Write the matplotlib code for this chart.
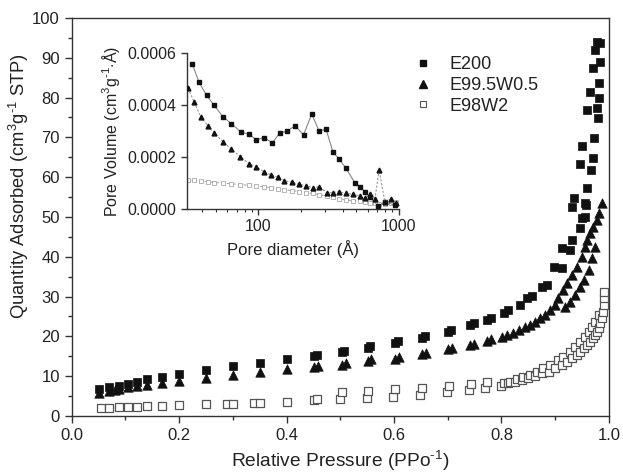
import matplotlib
matplotlib.use("Agg")
import matplotlib.pyplot as plt
from matplotlib.ticker import MultipleLocator, LogLocator, NullFormatter, FixedLocator
from matplotlib.lines import Line2D

plt.rcParams['font.family'] = ['Liberation Sans', 'DejaVu Sans']
plt.rcParams['mathtext.fontset'] = 'custom'
plt.rcParams['mathtext.rm'] = 'Liberation Sans'

# ---------------- main isotherm data ----------------
e200_p = [0.051, 0.070, 0.089, 0.105, 0.122, 0.141, 0.169, 0.200, 0.250, 0.300,
          0.351, 0.400, 0.451, 0.456, 0.503, 0.507, 0.551, 0.556, 0.602, 0.607,
          0.652, 0.657, 0.701, 0.707, 0.742, 0.748, 0.773, 0.780, 0.804, 0.813,
          0.835, 0.847, 0.857, 0.875, 0.885, 0.897, 0.912, 0.912, 0.928, 0.931,
          0.947, 0.950, 0.931, 0.958, 0.935, 0.956, 0.956, 0.960, 0.966, 0.947,
          0.970, 0.949, 0.973, 0.979, 0.977, 0.960, 0.982, 0.964, 0.982, 0.970,
          0.984, 0.974, 0.978, 0.984]
e200_q = [6.7, 7.2, 7.5, 8.0, 8.6, 9.2, 9.9, 10.6, 11.6, 12.6,
          13.4, 14.3, 15.1, 15.4, 16.0, 16.4, 17.1, 17.6, 18.3, 18.8,
          19.6, 20.1, 21.2, 21.7, 22.8, 23.3, 24.1, 24.6, 25.8, 26.6,
          27.9, 29.6, 30.2, 32.3, 32.9, 37.5, 37.1, 42.1, 41.7, 44.2,
          47.2, 49.7, 52.6, 53.0, 54.7, 53.4, 50.1, 57.2, 61.8, 63.3,
          64.8, 67.8, 69.8, 74.8, 77.3, 76.9, 79.8, 81.5, 83.7, 87.4,
          89.0, 92.0, 94.0, 93.6]

e995_p = [0.051, 0.070, 0.080, 0.089, 0.105, 0.122, 0.141, 0.169, 0.200, 0.250,
          0.300, 0.351, 0.400, 0.451, 0.458, 0.503, 0.510, 0.551, 0.558, 0.602,
          0.609, 0.652, 0.659, 0.701, 0.708, 0.742, 0.749, 0.773, 0.780, 0.801,
          0.810, 0.822, 0.832, 0.844, 0.853, 0.863, 0.872, 0.881, 0.891, 0.900,
          0.906, 0.915, 0.919, 0.922, 0.928, 0.931, 0.937, 0.940, 0.947, 0.950,
          0.953, 0.956, 0.960, 0.962, 0.965, 0.968, 0.971, 0.974, 0.978, 0.981,
          0.987]
e995_q = [5.7, 6.4, 6.6, 6.7, 7.2, 7.5, 7.8, 8.4, 8.9, 9.5,
          10.3, 11.1, 11.7, 12.2, 12.5, 12.9, 13.2, 13.8, 14.2, 14.4,
          14.8, 15.5, 15.9, 16.8, 17.2, 17.8, 18.2, 18.9, 19.3, 19.9,
          20.4, 20.9, 21.6, 22.4, 22.9, 23.7, 24.5, 25.4, 26.6, 27.9,
          29.6, 31.7, 27.5, 33.3, 28.7, 35.4, 30.4, 37.5, 32.5, 40.0,
          34.2, 42.5, 44.2, 36.7, 45.9, 39.6, 47.6, 42.5, 49.2, 50.9,
          53.4]

e98_p = [0.055, 0.070, 0.089, 0.105, 0.122, 0.141, 0.169, 0.200, 0.250, 0.290,
         0.300, 0.340, 0.351, 0.400, 0.451, 0.456, 0.500, 0.503, 0.549, 0.552,
         0.599, 0.602, 0.649, 0.652, 0.698, 0.702, 0.739, 0.743, 0.770, 0.774,
         0.800, 0.804, 0.813, 0.816, 0.826, 0.829, 0.838, 0.841, 0.850, 0.853,
         0.863, 0.866, 0.875, 0.878, 0.888, 0.891, 0.900, 0.906, 0.912, 0.915,
         0.922, 0.928, 0.931, 0.937, 0.940, 0.947, 0.947, 0.953, 0.956, 0.960,
         0.962, 0.965, 0.968, 0.970, 0.974, 0.974, 0.978, 0.981, 0.981, 0.984,
         0.987, 0.989, 0.991, 0.991, 0.991]
e98_q = [1.9, 1.9, 2.2, 2.3, 2.3, 2.4, 2.5, 2.7, 2.9, 3.0,
         3.1, 3.2, 3.3, 3.6, 4.1, 4.3, 4.3, 5.9, 4.6, 6.4,
         4.8, 6.7, 5.3, 7.1, 5.9, 7.5, 6.5, 8.0, 7.0, 8.5,
         7.5, 8.2, 8.2, 8.6, 8.6, 9.2, 9.0, 9.9, 9.5, 10.3,
         10.1, 11.1, 10.7, 12.0, 11.1, 12.8, 12.0, 14.1, 12.8, 14.9,
         13.6, 16.2, 14.5, 17.4, 15.3, 16.2, 18.7, 17.0, 19.9, 17.8,
         21.2, 18.7, 22.4, 19.5, 20.4, 23.7, 21.2, 22.0, 25.4, 23.3,
         24.5, 26.2, 27.9, 29.6, 31.2]

# ---------------- inset pore size distribution ----------------
psd_e200_d = [33.9, 37.8, 42.8, 48.2, 55.8, 64.4, 75.7, 86.3, 96.8, 109,
              126, 142, 160, 183, 210, 240, 271, 304, 339, 375,
              421, 487, 529, 574, 623, 713, 796, 937]
psd_e200_v = [0.000558, 0.000488, 0.000437, 0.000401, 0.000356, 0.000328, 0.000295,
              0.000288, 0.000266, 0.000275, 0.000255, 0.000292, 0.000300, 0.000320,
              0.000285, 0.000366, 0.000300, 0.000307, 0.000221, 0.000193, 0.000157,
              0.000101, 0.000086, 0.000067, 0.000045, 0.000012, 0.000028, 0.000015]

psd_e995_d = [31.6, 34.8, 38.8, 43.7, 48.7, 55.8, 64.4, 74.5, 86.3, 96.8,
              109, 123, 139, 153, 173, 196, 219, 244, 272, 307,
              339, 375, 421, 474, 529, 574, 623, 676, 725, 796, 887, 963]
psd_e995_v = [0.000465, 0.000413, 0.000356, 0.000320, 0.000292, 0.000259, 0.000230,
              0.000202, 0.000173, 0.000163, 0.000144, 0.000131, 0.000122, 0.000109,
              0.000103, 0.000095, 0.000090, 0.000082, 0.000086, 0.000063, 0.000063,
              0.000067, 0.000060, 0.000057, 0.000050, 0.000041, 0.000058, 0.000037,
              0.000150, 0.000028, 0.000040, 0.000024]

psd_e98_d = [31.6, 34.8, 38.8, 43.7, 48.7, 55.8, 64.4, 74.5, 86.3, 96.8,
             109, 123, 139, 153, 173, 196, 219, 244, 272, 307,
             339, 375, 421, 474, 529, 574, 623, 676, 725, 796, 887, 963]
psd_e98_v = [0.000112, 0.000110, 0.000108, 0.000105, 0.000102, 0.000100, 0.000097,
             0.000094, 0.000091, 0.000088, 0.000086, 0.000082, 0.000078, 0.000075,
             0.000071, 0.000067, 0.000063, 0.000060, 0.000055, 0.000050, 0.000045,
             0.000040, 0.000035, 0.000032, 0.000030, 0.000027, 0.000024, 0.000022,
             0.000020, 0.000018, 0.000022, 0.000028]

labels = ["E200", "E99.5W0.5", "E98W2"]

fig = plt.figure(figsize=(6.23, 4.74), dpi=100)
ax = fig.add_axes([0.115, 0.1224, 0.8624, 0.8397])

spine_c = '#333333'
ax.scatter(e200_p, e200_q, marker='s', s=34, c='#111111', edgecolors='#111111', linewidths=0.5, zorder=3)
ax.scatter(e995_p, e995_q, marker='^', s=46, c='#111111', edgecolors='#111111', linewidths=0.5, zorder=3)
ax.scatter(e98_p, e98_q, marker='s', s=30, facecolors='white', edgecolors='#555555', linewidths=0.9, zorder=3)

ax.set_xlim(0.0, 1.0)
ax.set_ylim(0, 100)
ax.xaxis.set_major_locator(MultipleLocator(0.2))
ax.xaxis.set_minor_locator(MultipleLocator(0.1))
ax.yaxis.set_major_locator(MultipleLocator(10))
ax.yaxis.set_minor_locator(MultipleLocator(5))
ax.xaxis.set_major_formatter(matplotlib.ticker.FormatStrFormatter('%.1f'))
ax.tick_params(which='major', direction='out', length=5, width=1, colors=spine_c, labelsize=12, labelcolor='#222222')
ax.tick_params(which='minor', direction='out', length=3, width=1, colors=spine_c)
for s in ax.spines.values():
    s.set_color(spine_c)
    s.set_linewidth(1.0)
ax.set_xlabel(r"Relative Pressure (PPo$^{\text{-}1}$)", fontsize=13.8, color='#222222', labelpad=4)
ax.set_ylabel(r"Quantity Adsorbed (cm$^3$g$^{\text{-}1}$ STP)", fontsize=13.2, color='#222222')
ax.yaxis.set_label_coords(-0.076, 0.578)

handles = [Line2D([], [], ls='none', marker='s', ms=5, mfc='#111111', mec='#111111'),
           Line2D([], [], ls='none', marker='^', ms=6, mfc='#111111', mec='#111111'),
           Line2D([], [], ls='none', marker='s', ms=5, mfc='white', mec='#555555', mew=0.8)]
ax.legend(handles, labels, loc='upper left', bbox_to_anchor=(0.61, 0.935), frameon=False,
          fontsize=13, handlelength=1.2, handletextpad=0.9, labelspacing=0.2, borderpad=0.2,
          labelcolor='#222222')

# inset
ins = fig.add_axes([0.300, 0.559, 0.340, 0.329])
ins.plot(psd_e200_d, psd_e200_v, '-', color='#888888', lw=0.8, marker='s', ms=3,
         mfc='#111111', mec='#111111', zorder=3)
ins.plot(psd_e995_d, psd_e995_v, '--', color='#999999', lw=0.8, dashes=(2, 1.5), marker='^', ms=3.5,
         mfc='#111111', mec='#111111', zorder=3)
ins.plot(psd_e98_d, psd_e98_v, '--', color='#aaaaaa', lw=0.8, dashes=(3, 2), marker='s', ms=2.5,
         mfc='white', mec='#999999', mew=0.5, zorder=2)
ins.set_xscale('log')
ins.set_xlim(31, 1000)
ins.set_ylim(0, 0.0006)
ins.set_yticks([0.0, 0.0002, 0.0004, 0.0006])
ins.yaxis.set_major_formatter(matplotlib.ticker.FormatStrFormatter('%.4f'))
ins.xaxis.set_major_locator(FixedLocator([100, 1000]))
ins.xaxis.set_major_formatter(matplotlib.ticker.FormatStrFormatter('%d'))
ins.xaxis.set_minor_locator(LogLocator(base=10, subs=range(2, 10)))
ins.xaxis.set_minor_formatter(NullFormatter())
ins.spines['top'].set_visible(False)
ins.spines['right'].set_visible(False)
for s in ('left', 'bottom'):
    ins.spines[s].set_color(spine_c)
    ins.spines[s].set_linewidth(1.0)
ins.patch.set_alpha(0)
ins.tick_params(which='major', direction='out', length=4, width=1, colors=spine_c, labelsize=11.5, labelcolor='#222222')
ins.tick_params(which='minor', direction='out', length=2, width=0.8, colors=spine_c)
ins.set_xlabel("Pore diameter (Å)", fontsize=12, color='#222222', labelpad=4)
ins.set_ylabel(r"Pore Volume (cm$^3$g$^{\text{-}1}$$\cdot$Å)", fontsize=11.5, color='#222222', labelpad=4)

fig.savefig("out.png", dpi=100)
